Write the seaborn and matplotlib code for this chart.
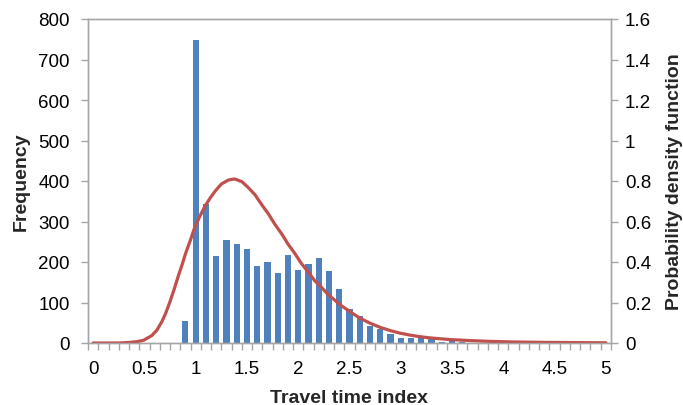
import matplotlib
matplotlib.use("Agg")
import matplotlib.pyplot as plt
import seaborn as sns
import numpy as np
import pandas as pd
from matplotlib.ticker import FixedLocator, FuncFormatter

# ---- data ----
bin_centers = [0.9, 1.0, 1.1, 1.2, 1.3, 1.4, 1.5, 1.6, 1.7, 1.8,
               1.9, 2.0, 2.1, 2.2, 2.3, 2.4, 2.5, 2.6, 2.7, 2.8,
               2.9, 3.0, 3.1, 3.2, 3.3, 3.4, 3.5, 3.6]
frequency = [55, 748, 343, 216, 254, 244, 232, 191, 199, 173,
             218, 180, 194, 211, 178, 134, 84, 67, 41, 34,
             22, 12, 12, 14, 9, 3, 5, 3]

curve_x = [0.0, 0.25, 0.36, 0.43, 0.49, 0.57, 0.62, 0.67, 0.71, 0.75,
           0.79, 0.83, 0.87, 0.90, 0.95, 0.99, 1.04, 1.09, 1.14, 1.19,
           1.25, 1.32, 1.38, 1.45, 1.51, 1.58, 1.64, 1.71, 1.77, 1.84,
           1.90, 1.97, 2.03, 2.10, 2.16, 2.23, 2.29, 2.36, 2.41, 2.51,
           2.60, 2.70, 2.80, 2.90, 2.99, 3.09, 3.19, 3.29, 3.48, 3.67,
           3.87, 4.1, 4.4, 4.7, 5.0]
curve_pdf = [0.0, 0.0, 0.003, 0.007, 0.013, 0.036, 0.062, 0.105, 0.15, 0.205,
             0.265, 0.33, 0.39, 0.44, 0.51, 0.57, 0.625, 0.675, 0.715, 0.75,
             0.785, 0.805, 0.81, 0.797, 0.769, 0.731, 0.686, 0.637, 0.588, 0.538,
             0.489, 0.44, 0.393, 0.349, 0.308, 0.273, 0.24, 0.21, 0.188, 0.153,
             0.123, 0.098, 0.077, 0.061, 0.049, 0.039, 0.031, 0.025, 0.017, 0.012,
             0.008, 0.005, 0.003, 0.002, 0.001]

x_tick_values = [0, 0.5, 1, 1.5, 2, 2.5, 3, 3.5, 4, 4.5, 5]
x_tick_labels = ["0", "0.5", "1", "1.5", "2", "2.5", "3", "3.5", "4", "4.5", "5"]
freq_ticks = [0, 100, 200, 300, 400, 500, 600, 700, 800]
pdf_ticks = [0, 0.2, 0.4, 0.6, 0.8, 1.0, 1.2, 1.4, 1.6]

sns.set_style("white")
plt.rcParams['font.family'] = ['Liberation Sans', 'DejaVu Sans']

W, H = 683, 406
fig = plt.figure(figsize=(W / 100, H / 100), dpi=100)
ax = fig.add_axes([88 / W, 1 - 344 / H, (611 - 88) / W, (344 - 20) / H])

df_bars = pd.DataFrame({"x": bin_centers, "freq": frequency})
sns.barplot(data=df_bars, x="x", y="freq", native_scale=True, width=0.6,
            color="#4F81BD", saturation=1, linewidth=0, errorbar=None, ax=ax)

ax2 = ax.twinx()
df_line = pd.DataFrame({"x": curve_x, "pdf": curve_pdf})
sns.lineplot(data=df_line, x="x", y="pdf", color="#C0504D", linewidth=2.3, ax=ax2)
for ln in ax2.lines:
    ln.set_solid_joinstyle("round")
    ln.set_solid_capstyle("round")

ax.set_xlim(-0.05, 5.05)
ax.set_ylim(0, 800)
ax2.set_ylim(0, 1.6)

gray = "#A6A6A6"
tick_fs = 13.5
label_fs = 14

# x axis
ax.xaxis.set_major_locator(FixedLocator(x_tick_values))
ax.set_xticklabels(x_tick_labels)
ax.xaxis.set_minor_locator(FixedLocator(list(np.arange(-0.05, 5.06, 0.1))))
ax.tick_params(axis="x", which="major", length=0, pad=12, labelsize=tick_fs, colors="black")
ax.tick_params(axis="x", which="minor", length=5, width=1, color=gray, direction="out", bottom=True)

# left y
ax.set_yticks(freq_ticks)
ax.set_yticklabels([str(v) for v in freq_ticks])
ax.tick_params(axis="y", which="major", length=5, width=1, color=gray, direction="out",
               pad=8, labelsize=tick_fs, labelcolor="black", left=True)

# right y
ax2.yaxis.set_major_locator(FixedLocator(pdf_ticks))
ax2.yaxis.set_major_formatter(FuncFormatter(lambda v, p: f"{v:g}"))
ax2.tick_params(axis="y", which="major", length=5, width=1, color=gray, direction="out",
                pad=5, labelsize=tick_fs, labelcolor="black", right=True)

for a in (ax, ax2):
    for s in a.spines.values():
        s.set_visible(True)
        s.set_color(gray)
        s.set_linewidth(1.0)
    a.grid(False)

ax.set_xlabel("Travel time index", fontsize=label_fs, fontweight="bold", labelpad=9)
ax.set_ylabel("Frequency", fontsize=label_fs, fontweight="bold", labelpad=6)
ax2.set_ylabel("Probability density function", fontsize=label_fs, fontweight="bold", labelpad=11)

fig.savefig("out.png", dpi=100)
